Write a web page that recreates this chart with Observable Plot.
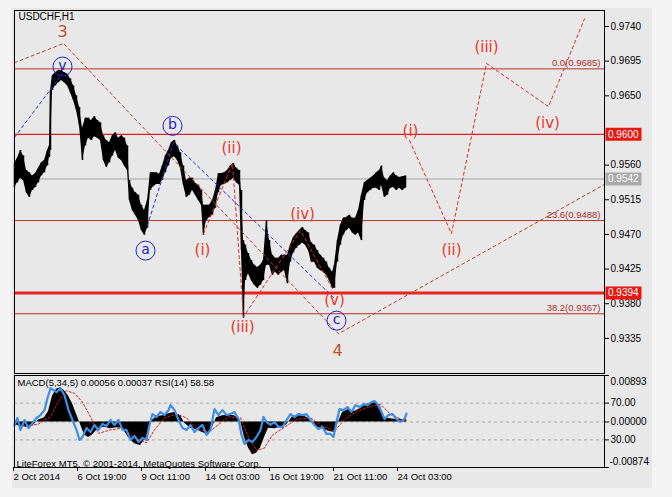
<!DOCTYPE html>
<html><head><meta charset="utf-8">
<script src="https://cdn.jsdelivr.net/npm/d3@7"></script>
<script src="https://cdn.jsdelivr.net/npm/@observablehq/plot@0.6"></script>
<style>
html,body{margin:0;padding:0;background:#f4f4f4;}
#page{position:relative;width:672px;height:497px;overflow:hidden;background:#f4f4f4;font-family:"Liberation Sans",Arial,sans-serif;}
#win{position:absolute;left:12px;top:8px;width:640px;height:480px;background:#e8e8e8;}
#main,#osc{position:absolute;left:0;}
#main{top:0px}
#osc{top:373px}
svg{background:transparent !important;}
</style></head><body>
<div id="page"><div id="win"></div><div id="main"></div><div id="osc"></div></div>
<script>
// ---------- DATA ----------
// hourly bars (bar index from 2 Oct 2014), sampled high / low
const barIdx = [0,3,6,9,12,15,18,21,24,27,30,33,35,36,38,41,44,47,50,53,56,59,62,65,68,71,74,77,80,83,86,89,92,95,98,101,104,107,110,113,115,118,121,124,127,130,133,136,139,142,145,148,151,154,157,160,163,166,169,172,175,178,181,184,187,189,192,195,198,201,204,207,210,213,216,219,222,225,227,229,231,234,237,240,243,246,249,252,255,258,261,264,267,270,273,276,279,282,285,288,291,294,297,300,303,306,309,312,315,318,320,323,326,329,332,335,338,341,344,347,350,353,356,359,362,365,367,370,373,376,379,382,385,388,391];
const barHigh = [0.9562,0.9569,0.9579,0.9572,0.9553,0.9550,0.9546,0.9549,0.9556,0.9563,
0.9566,0.9579,0.9585,0.9657,0.9676,0.9680,0.9683,0.9683,0.9680,0.9678,
0.9672,0.9663,0.9650,0.9635,0.9608,0.9621,0.9621,0.9618,0.9623,0.9618,
0.9615,0.9598,0.9592,0.9589,0.9598,0.9602,0.9595,0.9598,0.9595,0.9585,
0.9540,0.9530,0.9524,0.9521,0.9508,0.9501,0.9514,0.9550,0.9550,0.9550,
0.9548,0.9559,0.9572,0.9579,0.9589,0.9592,0.9585,0.9576,0.9559,0.9540,
0.9543,0.9543,0.9536,0.9534,0.9527,0.9508,0.9508,0.9508,0.9514,0.9527,
0.9549,0.9549,0.9550,0.9553,0.9559,0.9562,0.9556,0.9553,0.9527,0.9462,
0.9456,0.9445,0.9436,0.9430,0.9427,0.9430,0.9436,0.9488,0.9462,0.9443,
0.9439,0.9439,0.9443,0.9443,0.9443,0.9456,0.9466,0.9471,0.9475,0.9479,
0.9475,0.9472,0.9459,0.9456,0.9449,0.9443,0.9439,0.9434,0.9426,0.9421,
0.9430,0.9462,0.9482,0.9491,0.9492,0.9495,0.9491,0.9491,0.9501,0.9521,
0.9537,0.9540,0.9543,0.9546,0.9550,0.9553,0.9559,0.9543,0.9540,0.9546,
0.9550,0.9546,0.9544,0.9545,0.9546];
const barLow = [0.9531,0.9537,0.9543,0.9540,0.9524,0.9518,0.9527,0.9531,0.9537,0.9546,
0.9550,0.9559,0.9570,0.9579,0.9657,0.9663,0.9667,0.9670,0.9667,0.9663,
0.9654,0.9644,0.9631,0.9611,0.9566,0.9585,0.9595,0.9592,0.9597,0.9595,
0.9592,0.9566,0.9557,0.9563,0.9572,0.9579,0.9569,0.9566,0.9559,0.9553,
0.9514,0.9501,0.9495,0.9488,0.9475,0.9469,0.9478,0.9527,0.9532,0.9535,
0.9535,0.9540,0.9550,0.9559,0.9569,0.9571,0.9566,0.9556,0.9534,0.9518,
0.9521,0.9527,0.9521,0.9514,0.9508,0.9469,0.9488,0.9492,0.9495,0.9504,
0.9524,0.9534,0.9535,0.9537,0.9540,0.9543,0.9537,0.9534,0.9449,0.9361,
0.9410,0.9419,0.9410,0.9404,0.9400,0.9404,0.9410,0.9430,0.9430,0.9417,
0.9421,0.9417,0.9421,0.9423,0.9406,0.9434,0.9446,0.9452,0.9456,0.9459,
0.9456,0.9449,0.9434,0.9434,0.9426,0.9423,0.9421,0.9417,0.9410,0.9400,
0.9400,0.9434,0.9456,0.9469,0.9475,0.9478,0.9472,0.9469,0.9472,0.9462,
0.9514,0.9524,0.9527,0.9530,0.9530,0.9527,0.9534,0.9518,0.9521,0.9530,
0.9531,0.9527,0.9530,0.9527,0.9530];

// horizontal levels
const levelPrices = [0.9685, 0.9600, 0.9542, 0.9488, 0.9394, 0.9367];
const levelKinds  = ["fib", "res", "last", "fib", "sup", "fib"];
const fibRatios = ["0.0", "23.6", "38.2"];
const fibPrices = [0.9685, 0.9488, 0.9367];
const boxPrices = [0.9600, 0.9542, 0.9394];
const boxKinds  = ["res", "last", "sup"];

// price axis ticks (0.9605 sits under the 0.9600 marker)
const priceTicks = [0.9740, 0.9695, 0.9650, 0.9560, 0.9515, 0.9470, 0.9425, 0.9380, 0.9335];

// wave lines
const bigWaveIdx = [0, 49, 324, 590];
const bigWaveP   = [0.9693, 0.9718, 0.9341, 0.9535];
const blueWave1Idx = [0, 48];
const blueWave1P   = [0.9596, 0.9679];
const blueWave2Idx = [133, 159, 319];
const blueWave2P   = [0.9482, 0.9589, 0.9388];
const subWaveIdx = [189, 218, 229, 286, 319];
const subWaveP   = [0.9471, 0.9562, 0.9363, 0.9475, 0.9397];
const projIdx = [395, 437, 472, 534, 570];
const projP   = [0.9592, 0.9471, 0.9692, 0.9636, 0.9750];

// wave labels
const circIdx  = [48, 158, 131, 322];
const circP    = [0.9688, 0.9611, 0.9449, 0.9358];
const circText = ["v", "b", "a", "c"];
const numIdx  = [48, 323];
const numP    = [0.9733, 0.9319];
const numText = ["3", "4"];
const redIdx  = [217, 188, 228, 288, 320, 396, 437, 472, 533];
const redP    = [0.9582, 0.9449, 0.9350, 0.9496, 0.9385, 0.9604, 0.9449, 0.9713, 0.9614];
const redText = ["(ii)", "(i)", "(iii)", "(iv)", "(v)", "(i)", "(ii)", "(iii)", "(iv)"];

// oscillator panel
const macdIdx = [0,6,12,18,24,30,34,38,42,46,50,54,58,62,66,70,74,78,84,90,96,102,108,114,120,126,132,136,142,148,154,160,166,170,176,182,188,194,198,202,208,214,220,226,230,234,238,242,246,250,254,260,266,272,278,284,290,296,302,308,314,320,324,328,334,340,346,352,358,362,366,370,376,382,388,392];
const macdVal = [-0.0006,-0.0008,-0.0010,-0.0008,0.0004,0.0008,0.0020,0.0050,0.0063,0.0066,
0.0060,0.0050,0.0035,0.0015,-0.0005,-0.0025,-0.0030,-0.0025,-0.0012,-0.0010,
-0.0013,-0.0011,-0.0012,-0.0030,-0.0042,-0.0045,-0.0030,0.0000,0.0010,0.0012,
0.0016,0.0018,0.0012,-0.0002,-0.0012,-0.0015,-0.0020,-0.0025,-0.0010,0.0008,
0.0012,0.0013,0.0012,0.0003,-0.0030,-0.0050,-0.0063,-0.0060,-0.0050,-0.0030,
-0.0012,-0.0013,-0.0010,-0.0006,0.0010,0.0012,0.0011,0.0005,-0.0010,-0.0013,
-0.0018,-0.0020,0.0000,0.0018,0.0024,0.0020,0.0026,0.0034,0.0036,0.0038,
0.0030,0.0008,0.0006,0.0005,0.0005,0.00056];
const sigIdx = [0,12,24,36,44,52,60,68,76,84,96,108,120,132,140,150,162,172,182,194,204,214,226,234,242,250,258,270,282,296,308,320,330,342,356,366,376,388,392];
const sigVal = [-0.0004,-0.0008,-0.0004,0.0010,0.0040,0.0060,0.0055,0.0038,0.0010,-0.0022,
-0.0015,-0.0012,-0.0030,-0.0040,-0.0015,0.0008,0.0015,0.0008,-0.0012,-0.0020,
-0.0005,0.0010,0.0008,-0.0030,-0.0055,-0.0050,-0.0025,-0.0010,0.0005,0.0008,
-0.0008,-0.0018,0.0005,0.0020,0.0030,0.0034,0.0015,0.0004,0.00037];
const rsiIdx = [0,3,6,10,14,18,22,26,30,33,36,39,42,46,50,54,58,62,65,68,72,76,80,84,88,92,96,100,104,108,112,116,120,124,128,132,135,138,142,146,150,154,156,160,164,168,172,176,180,184,188,192,196,200,204,208,212,216,220,224,227,230,234,238,242,246,249,252,256,260,264,268,272,276,280,284,288,292,296,300,304,308,312,316,319,322,325,329,333,337,341,345,349,353,357,360,363,367,370,374,378,382,386,390,392];
const rsiVal = [46.2,53.8,40.8,51.6,43.0,48.4,53.8,57.0,62.4,75.4,
86.2,84.1,81.9,86.2,78.6,62.4,51.6,40.8,30.0,33.2,
43.0,38.6,46.2,40.8,47.3,45.1,51.6,46.2,51.6,40.8,
40.8,30.0,34.3,27.8,32.2,30.0,46.2,58.1,54.9,60.3,
57.0,62.4,67.8,62.4,51.6,43.0,40.8,46.2,38.6,43.0,
46.2,35.4,40.8,63.5,57.0,62.4,57.0,58.1,60.3,52.7,
35.4,25.7,30.0,27.8,33.2,40.8,54.9,49.5,46.2,49.5,
44.1,44.1,51.6,58.1,54.9,58.1,57.0,58.1,51.6,46.2,
41.9,44.1,36.5,36.5,33.2,49.5,63.5,62.4,65.7,60.3,
67.8,65.7,68.9,67.8,71.1,72.2,68.9,60.3,52.7,57.0,
58.1,52.7,49.5,52.7,58.58];
const oscTop = 0.00893, oscBottom = -0.00874;
const rsiLevels = [70, 30];
const dateTickIdx = [0, 64, 128, 192, 256, 320, 384];
const dateLabels = ["2 Oct 2014", "6 Oct 19:00", "9 Oct 11:00", "14 Oct 03:00", "16 Oct 19:00", "21 Oct 11:00", "24 Oct 03:00"];

// ---------- STYLE ----------
const SMALL = "Liberation Sans, Arial, sans-serif";
const WAVEF = "DejaVu Sans, Verdana, sans-serif";
const levelStyle = {
  fib:  {stroke: "#b8322a", width: 1},
  res:  {stroke: "#e0201c", width: 1.2},
  last: {stroke: "#a4a4a4", width: 1},
  sup:  {stroke: "#e82420", width: 3}
};
const boxFill = {res: "#e8180f", last: "#a9a9a9", sup: "#e8180f"};
const XMAX = 590;

const zip = (xs, ys, extra = {}) => xs.map((x, k) => ({x, y: ys[k], ...extra}));
const bars = barIdx.map((i, k) => ({i, hi: barHigh[k], lo: barLow[k]}));
const levels = levelPrices.map((p, k) => ({p, kind: levelKinds[k]}));
const fibs = fibPrices.map((p, k) => ({p, t: `${fibRatios[k]}(${p.toFixed(4)})`}));
const boxes = boxPrices.map((p, k) => ({p, kind: boxKinds[k]}));

const main = Plot.plot({
  width: 672, height: 375,
  marginLeft: 14, marginRight: 68, marginTop: 10, marginBottom: 2,
  style: {background: "transparent", fontFamily: SMALL, fontSize: "10px", color: "#000"},
  x: {domain: [0, XMAX], axis: null},
  y: {domain: [0.92894, 0.97608], axis: null},
  marks: [
    Plot.ruleY(levels, {y: "p", stroke: d => levelStyle[d.kind].stroke, strokeWidth: d => levelStyle[d.kind].width}),
    Plot.areaY(bars, {x: "i", y1: "lo", y2: "hi", fill: "#000", curve: "linear"}),
    Plot.ruleX(bars, {x: "i", y1: "lo", y2: "hi", stroke: "#000", strokeWidth: 1.5}),
    Plot.line(zip(bigWaveIdx, bigWaveP), {x: "x", y: "y", stroke: "#b5452e", strokeWidth: 1, strokeDasharray: "3,3"}),
    Plot.line(zip(blueWave1Idx, blueWave1P), {x: "x", y: "y", stroke: "#2c2cd8", strokeWidth: 1, strokeDasharray: "3,3"}),
    Plot.line(zip(blueWave2Idx, blueWave2P), {x: "x", y: "y", stroke: "#2c2cd8", strokeWidth: 1, strokeDasharray: "3,3"}),
    Plot.line(zip(subWaveIdx, subWaveP), {x: "x", y: "y", stroke: "#e02a24", strokeWidth: 1, strokeDasharray: "3,3"}),
    Plot.line(zip(projIdx, projP), {x: "x", y: "y", stroke: "#e02a24", strokeWidth: 1, strokeDasharray: "3,3"}),
    Plot.dot(zip(circIdx, circP), {x: "x", y: "y", r: 9.5, stroke: "#2020c8", strokeWidth: 1, fill: "none"}),
    Plot.text(circIdx.map((x, k) => ({x, y: circP[k], t: circText[k]})), {x: "x", y: "y", text: "t", fill: "#2020c8", fontSize: 14, fontFamily: WAVEF, dy: -1}),
    Plot.text(numIdx.map((x, k) => ({x, y: numP[k], t: numText[k]})), {x: "x", y: "y", text: "t", fill: "#c2502e", fontSize: 16, fontFamily: WAVEF}),
    Plot.text(redIdx.map((x, k) => ({x, y: redP[k], t: redText[k]})), {x: "x", y: "y", text: "t", fill: "#e63a2a", fontSize: 15, fontFamily: WAVEF}),
    Plot.text(fibs, {x: XMAX, y: "p", text: "t", textAnchor: "end", dx: -4, dy: -6, fill: "#a8302a", fontSize: 9.5, fontFamily: SMALL}),
    Plot.axisY({anchor: "right", label: null, ticks: priceTicks, tickFormat: d3.format(".4f"), tickSize: 4, tickPadding: 2, fontSize: 10, fontFamily: SMALL}),
    Plot.ruleY(boxes, {y: "p", x1: XMAX + 1.5, x2: XMAX + 37.5, stroke: d => boxFill[d.kind], strokeWidth: 13}),
    Plot.text(boxes, {x: XMAX + 3.5, y: "p", text: d => d.p.toFixed(4), textAnchor: "start", fill: "#fff", fontSize: 10, fontFamily: SMALL}),
    Plot.text(["USDCHF,H1"], {frameAnchor: "top-left", text: d => d, dx: 4, dy: 2, fontSize: 10, fontFamily: SMALL, fill: "#000"}),
    Plot.frame({stroke: "#000", strokeWidth: 1})
  ]
});
document.getElementById("main").appendChild(main);

const rsiToOsc = r => oscBottom + (r / 100) * (oscTop - oscBottom);
const macd = zip(macdIdx, macdVal);
const osc = Plot.plot({
  width: 672, height: 124,
  marginLeft: 14, marginRight: 68, marginTop: 2, marginBottom: 30,
  style: {background: "transparent", fontFamily: SMALL, fontSize: "10px", color: "#000"},
  x: {domain: [0, XMAX], axis: null},
  y: {domain: [oscBottom, oscTop], axis: null},
  marks: [
    Plot.ruleY([rsiToOsc(rsiLevels[0]), 0, rsiToOsc(rsiLevels[1])], {stroke: "#a8a8a8", strokeDasharray: "3,3"}),
    Plot.areaY(macd, {x: "x", y1: 0, y2: "y", fill: "#000"}),
    Plot.line(zip(sigIdx, sigVal), {x: "x", y: "y", stroke: "#d81818", strokeWidth: 1, strokeDasharray: "2,2"}),
    Plot.line(rsiIdx.map((x, k) => ({x, y: rsiToOsc(rsiVal[k])})), {x: "x", y: "y", stroke: "#3d8ee6", strokeWidth: 2.2}),
    Plot.text([`MACD(5,34,5) ${macdVal[macdVal.length-1].toFixed(5)} ${sigVal[sigVal.length-1].toFixed(5)} RSI(14) ${rsiVal[rsiVal.length-1].toFixed(2)}`],
      {frameAnchor: "top-left", text: d => d, dx: 3, dy: 4, fontSize: 9.5, fontFamily: SMALL, fill: "#000"}),
    Plot.text(["LiteForex MT5, © 2001-2014, MetaQuotes Software Corp."],
      {frameAnchor: "bottom-left", text: d => d, dx: 2, dy: -1, fontSize: 9.5, fontFamily: SMALL, fill: "#000"}),
    Plot.axisY({anchor: "right", label: null, ticks: [rsiToOsc(rsiLevels[0]), 0, rsiToOsc(rsiLevels[1])],
      tickFormat: (d, k) => [rsiLevels[0].toFixed(2), (0).toFixed(5), rsiLevels[1].toFixed(2)][k], tickSize: 4, tickPadding: 2, fontSize: 10, fontFamily: SMALL}),
    Plot.axisY({anchor: "right", label: null, ticks: [oscTop, oscBottom], tickFormat: () => "", tickSize: 4}),
    Plot.text([oscTop], {x: XMAX, y: d => d, text: d => d.toFixed(5), textAnchor: "start", dx: 6, dy: 6, fontSize: 10, fontFamily: SMALL}),
    Plot.text([oscBottom], {x: XMAX, y: d => d, text: d => d.toFixed(5), textAnchor: "start", dx: 5, dy: -6, fontSize: 10, fontFamily: SMALL}),
    Plot.axisX({anchor: "bottom", label: null, ticks: dateTickIdx, tickFormat: (d, k) => dateLabels[k], textAnchor: "start", tickSize: 4, tickPadding: 2, dx: -1, fontSize: 9.5, fontFamily: SMALL}),
    Plot.frame({stroke: "#000", strokeWidth: 1})
  ]
});
document.getElementById("osc").appendChild(osc);
</script>
</body></html>
